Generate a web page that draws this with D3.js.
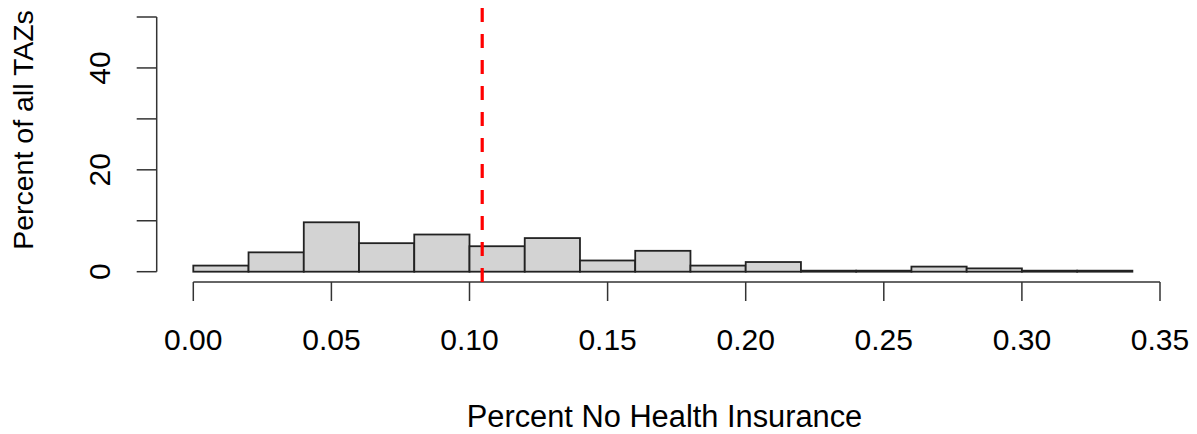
<!DOCTYPE html>
<html>
<head>
<meta charset="utf-8">
<script src="https://cdn.jsdelivr.net/npm/d3@7"></script>
<style>
  html, body { margin: 0; padding: 0; background: #fff; }
  text { font-family: "Liberation Sans", Arial, sans-serif; fill: #000; }
</style>
</head>
<body>
<svg id="chart" width="1197" height="434"></svg>
<script>
/* histogram of share of TAZs without health insurance, 0.02 bins */
var binStarts = [0.00, 0.02, 0.04, 0.06, 0.08, 0.10, 0.12, 0.14, 0.16,
                 0.18, 0.20, 0.22, 0.24, 0.26, 0.28, 0.30, 0.32];
var binWidth = 0.02;
var pctTAZ = [1.2, 3.8, 9.7, 5.6, 7.3, 5.0, 6.6, 2.2, 4.1,
              1.2, 1.9, 0.2, 0.2, 1.0, 0.65, 0.2, 0.2];
var meanValue = 0.1046;
var xTicks = [0, 0.05, 0.10, 0.15, 0.20, 0.25, 0.30, 0.35];
var yTicks = [0, 10, 20, 30, 40, 50];
var yTickLabels = [0, 20, 40];

var svg = d3.select('#chart');
var x = d3.scaleLinear().domain([0, 0.35]).range([193.3, 1160]);
var y = d3.scaleLinear().domain([0, 50]).range([271.7, 17]);
var plotBottom = 282, plotTop = 7;
var axisColor = '#333';

// bars
svg.append('g').selectAll('rect')
  .data(pctTAZ)
  .enter().append('rect')
  .attr('x', function (d, i) { return x(binStarts[i]); })
  .attr('y', function (d) { return y(d); })
  .attr('width', function (d, i) { return x(binStarts[i] + binWidth) - x(binStarts[i]); })
  .attr('height', function (d) { return y(0) - y(d); })
  .attr('fill', '#d3d3d3')
  .attr('stroke', '#222')
  .attr('stroke-width', 1.8);

// x axis (R style: line between first and last tick)
var gx = svg.append('g').attr('transform', 'translate(0,' + plotBottom + ')');
gx.append('line')
  .attr('x1', x(0)).attr('x2', x(0.35))
  .attr('stroke', axisColor).attr('stroke-width', 1.5);
gx.selectAll('line.tick').data(xTicks).enter().append('line')
  .attr('class', 'tick')
  .attr('x1', function (d) { return x(d); }).attr('x2', function (d) { return x(d); })
  .attr('y1', 0).attr('y2', 19)
  .attr('stroke', axisColor).attr('stroke-width', 1.5);
gx.selectAll('text').data(xTicks).enter().append('text')
  .attr('x', function (d) { return x(d); })
  .attr('y', 68)
  .attr('text-anchor', 'middle')
  .attr('font-size', 30)
  .text(function (d) { return d.toFixed(2); });

// y axis
var axX = 156.7;
var gy = svg.append('g');
gy.append('line')
  .attr('x1', axX).attr('x2', axX)
  .attr('y1', y(0)).attr('y2', y(50))
  .attr('stroke', axisColor).attr('stroke-width', 1.5);
gy.selectAll('line.tick').data(yTicks).enter().append('line')
  .attr('class', 'tick')
  .attr('x1', axX - 20).attr('x2', axX)
  .attr('y1', function (d) { return y(d); }).attr('y2', function (d) { return y(d); })
  .attr('stroke', axisColor).attr('stroke-width', 1.5);
gy.selectAll('text').data(yTickLabels).enter().append('text')
  .attr('transform', function (d) { return 'translate(110,' + y(d) + ') rotate(-90)'; })
  .attr('text-anchor', 'middle')
  .attr('font-size', 30)
  .text(function (d) { return d; });

// axis titles
svg.append('text')
  .attr('x', 664.5).attr('y', 427)
  .attr('text-anchor', 'middle')
  .attr('font-size', 30.8)
  .text('Percent No Health Insurance');
svg.append('text')
  .attr('transform', 'translate(33,130) rotate(-90)')
  .attr('text-anchor', 'middle')
  .attr('font-size', 28.5)
  .text('Percent of all TAZs');

// mean line
svg.append('line')
  .attr('x1', x(meanValue)).attr('x2', x(meanValue))
  .attr('y1', plotBottom).attr('y2', plotTop)
  .attr('stroke', '#ff0000')
  .attr('stroke-width', 3.2)
  .attr('stroke-dasharray', '14,12');
</script>
</body>
</html>
